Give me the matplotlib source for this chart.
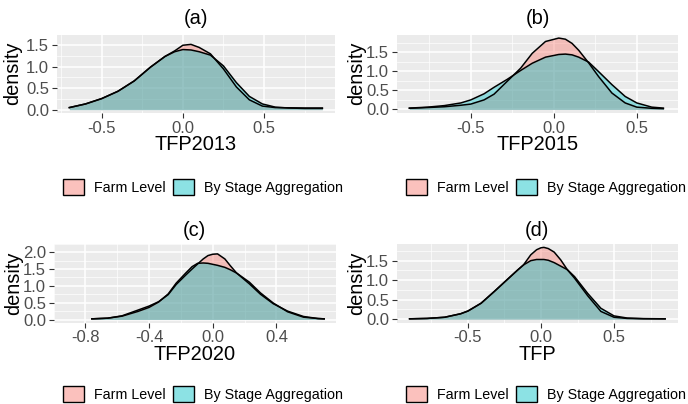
import matplotlib
matplotlib.use("Agg")
import matplotlib.pyplot as plt
from matplotlib.patches import Patch

plt.rcParams['font.family'] = ['Liberation Sans', 'DejaVu Sans']

# density curves, one (x, farm, stage) set per panel
x_a = [-0.70, -0.60, -0.50, -0.40, -0.30, -0.20, -0.11, -0.05, 0.00, 0.05,
       0.10, 0.17, 0.25, 0.33, 0.41, 0.49, 0.57, 0.65, 0.75, 0.86]
farm_a = [0.05, 0.135, 0.26, 0.43, 0.67, 0.99, 1.24, 1.37, 1.50, 1.52,
          1.45, 1.30, 0.95, 0.53, 0.23, 0.085, 0.05, 0.045, 0.04, 0.04]
stage_a = [0.05, 0.135, 0.26, 0.43, 0.67, 0.99, 1.24, 1.35, 1.40, 1.39,
           1.35, 1.27, 1.02, 0.63, 0.31, 0.135, 0.06, 0.04, 0.03, 0.03]

x_b = [-0.87, -0.76, -0.66, -0.56, -0.50, -0.42, -0.36, -0.28, -0.20, -0.13, -0.05,
       0.03, 0.07, 0.11, 0.15, 0.21, 0.27, 0.35, 0.43, 0.50, 0.59, 0.66]
farm_b = [0.03, 0.05, 0.07, 0.11, 0.14, 0.25, 0.40, 0.74, 1.08, 1.47, 1.78,
          1.87, 1.84, 1.73, 1.55, 1.22, 0.86, 0.43, 0.17, 0.06, 0.03, 0.02]
stage_b = [0.035, 0.06, 0.10, 0.17, 0.25, 0.41, 0.58, 0.79, 1.02, 1.21, 1.37,
           1.44, 1.45, 1.43, 1.37, 1.24, 0.99, 0.65, 0.34, 0.17, 0.06, 0.035]

x_c = [-0.76, -0.66, -0.57, -0.47, -0.40, -0.34, -0.28, -0.23, -0.17, -0.13, -0.095,
       -0.06, -0.03, 0.00, 0.03, 0.076, 0.11, 0.15, 0.23, 0.30, 0.38, 0.47, 0.57,
       0.66, 0.70]
farm_c = [0.02, 0.04, 0.11, 0.28, 0.40, 0.53, 0.74, 1.04, 1.32, 1.50, 1.65,
          1.80, 1.90, 1.94, 1.95, 1.80, 1.60, 1.38, 1.06, 0.75, 0.47, 0.25, 0.09,
          0.03, 0.02]
stage_c = [0.02, 0.04, 0.10, 0.24, 0.36, 0.52, 0.76, 1.08, 1.38, 1.57, 1.67,
           1.68, 1.67, 1.64, 1.61, 1.55, 1.48, 1.38, 1.11, 0.79, 0.49, 0.23, 0.07,
           0.03, 0.02]

x_d = [-0.90, -0.78, -0.66, -0.55, -0.50, -0.41, -0.32, -0.23, -0.16, -0.12, -0.07,
       -0.03, 0.00, 0.02, 0.05, 0.09, 0.135, 0.18, 0.23, 0.32, 0.41, 0.50, 0.59,
       0.70, 0.85]
farm_d = [0.01, 0.02, 0.05, 0.14, 0.21, 0.41, 0.71, 1.02, 1.26, 1.39, 1.65,
          1.78, 1.83, 1.84, 1.81, 1.72, 1.52, 1.27, 1.05, 0.60, 0.20, 0.05, 0.02,
          0.012, 0.01]
stage_d = [0.01, 0.02, 0.05, 0.14, 0.21, 0.41, 0.71, 1.02, 1.26, 1.39, 1.50,
           1.53, 1.53, 1.53, 1.51, 1.45, 1.36, 1.27, 1.09, 0.66, 0.28, 0.085, 0.03,
           0.015, 0.01]

titles = ["(a)", "(b)", "(c)", "(d)"]
xlabels = ["TFP2013", "TFP2015", "TFP2020", "TFP"]
xticks_abd = [-0.5, 0.0, 0.5]
xticks_c = [-0.8, -0.4, 0.0, 0.4]
yticks_abd = [0.0, 0.5, 1.0, 1.5]
yticks_c = [0.0, 0.5, 1.0, 1.5, 2.0]
legend_labels = ["Farm Level", "By Stage Aggregation"]

PINK = "#F8766D"
TEAL = "#00BFC4"
ALPHA = 0.4
W, H = 688, 404

# panel boxes in pixels: left, right, top, bottom
boxes = [(56.7, 335.0, 34.5, 113.0), (396.7, 678.3, 34.5, 113.0),
         (53.6, 335.8, 243.8, 322.8), (396.8, 677.9, 243.8, 322.8)]
panels = [(x_a, farm_a, stage_a, xticks_abd, yticks_abd),
          (x_b, farm_b, stage_b, xticks_abd, yticks_abd),
          (x_c, farm_c, stage_c, xticks_c, yticks_c),
          (x_d, farm_d, stage_d, xticks_abd, yticks_abd)]
ylab_x = [13.0, 357.0, 13.5, 357.0]
title_y = [19, 19, 231, 231]
xlab_base = [150, 150, 360, 360]
legend_xy = [(203, 187), (546, 187), (203, 394), (546, 394)]

fig = plt.figure(figsize=(W / 100, H / 100), dpi=100)

for i, (box, (xs, farm, stage, xt, yt)) in enumerate(zip(boxes, panels)):
    l, r, t, b = box
    ax = fig.add_axes([l / W, 1 - b / H, (r - l) / W, (b - t) / H])
    ax.set_facecolor("#EBEBEB")
    for s in ax.spines.values():
        s.set_visible(False)

    ax.fill_between(xs, farm, color=PINK, alpha=ALPHA, lw=0)
    ax.plot(xs, farm, color="black", lw=1.1)
    ax.fill_between(xs, stage, color=TEAL, alpha=ALPHA, lw=0)
    ax.plot(xs, stage, color="black", lw=1.1)

    # ggplot-like 5% expansion
    xr = max(xs) - min(xs)
    ymax = max(max(farm), max(stage))
    ax.set_xlim(min(xs) - 0.05 * xr, max(xs) + 0.05 * xr)
    ax.set_ylim(-0.05 * ymax, 1.05 * ymax)

    ax.set_xticks(xt)
    ax.set_xticklabels(["%.1f" % v for v in xt])
    ax.set_yticks(yt)
    ax.set_yticklabels(["%.1f" % v for v in yt])
    ax.set_xticks([v + (xt[1] - xt[0]) / 2 for v in [xt[0] - (xt[1] - xt[0])] + xt], minor=True)
    ax.set_yticks([v + 0.25 for v in yt], minor=True)
    ax.tick_params(which="major", length=3.5, width=0.8, color="#333333",
                   labelcolor="#4D4D4D", labelsize=12.0, pad=2)
    ax.tick_params(which="minor", length=0)
    ax.grid(which="major", color="white", lw=1.1)
    ax.grid(which="minor", color="white", lw=0.5)
    ax.set_axisbelow(True)

    fig.text((l + r) / 2 / W, 1 - title_y[i] / H, titles[i], ha="center",
             va="center", fontsize=14.4)
    fig.text((l + r) / 2 / W, 1 - xlab_base[i] / H, xlabels[i], ha="center",
             va="baseline", fontsize=14.4)
    fig.text(ylab_x[i] / W, 1 - (t + b) / 2 / H, "density", rotation=90,
             ha="center", va="center", fontsize=14.4)

    handles = [Patch(facecolor=(0.973, 0.463, 0.427, ALPHA + 0.05), edgecolor="black", lw=1.0),
               Patch(facecolor=(0.0, 0.749, 0.769, ALPHA + 0.05), edgecolor="black", lw=1.0)]
    lx, ly = legend_xy[i]
    fig.legend(handles=handles, labels=legend_labels, loc="center",
               bbox_to_anchor=(lx / W, 1 - ly / H), ncol=2, frameon=False,
               fontsize=10.3, handlelength=1.47, handleheight=1.33,
               handletextpad=0.65, columnspacing=0.58, borderpad=0)

fig.savefig("out.png", dpi=100)
